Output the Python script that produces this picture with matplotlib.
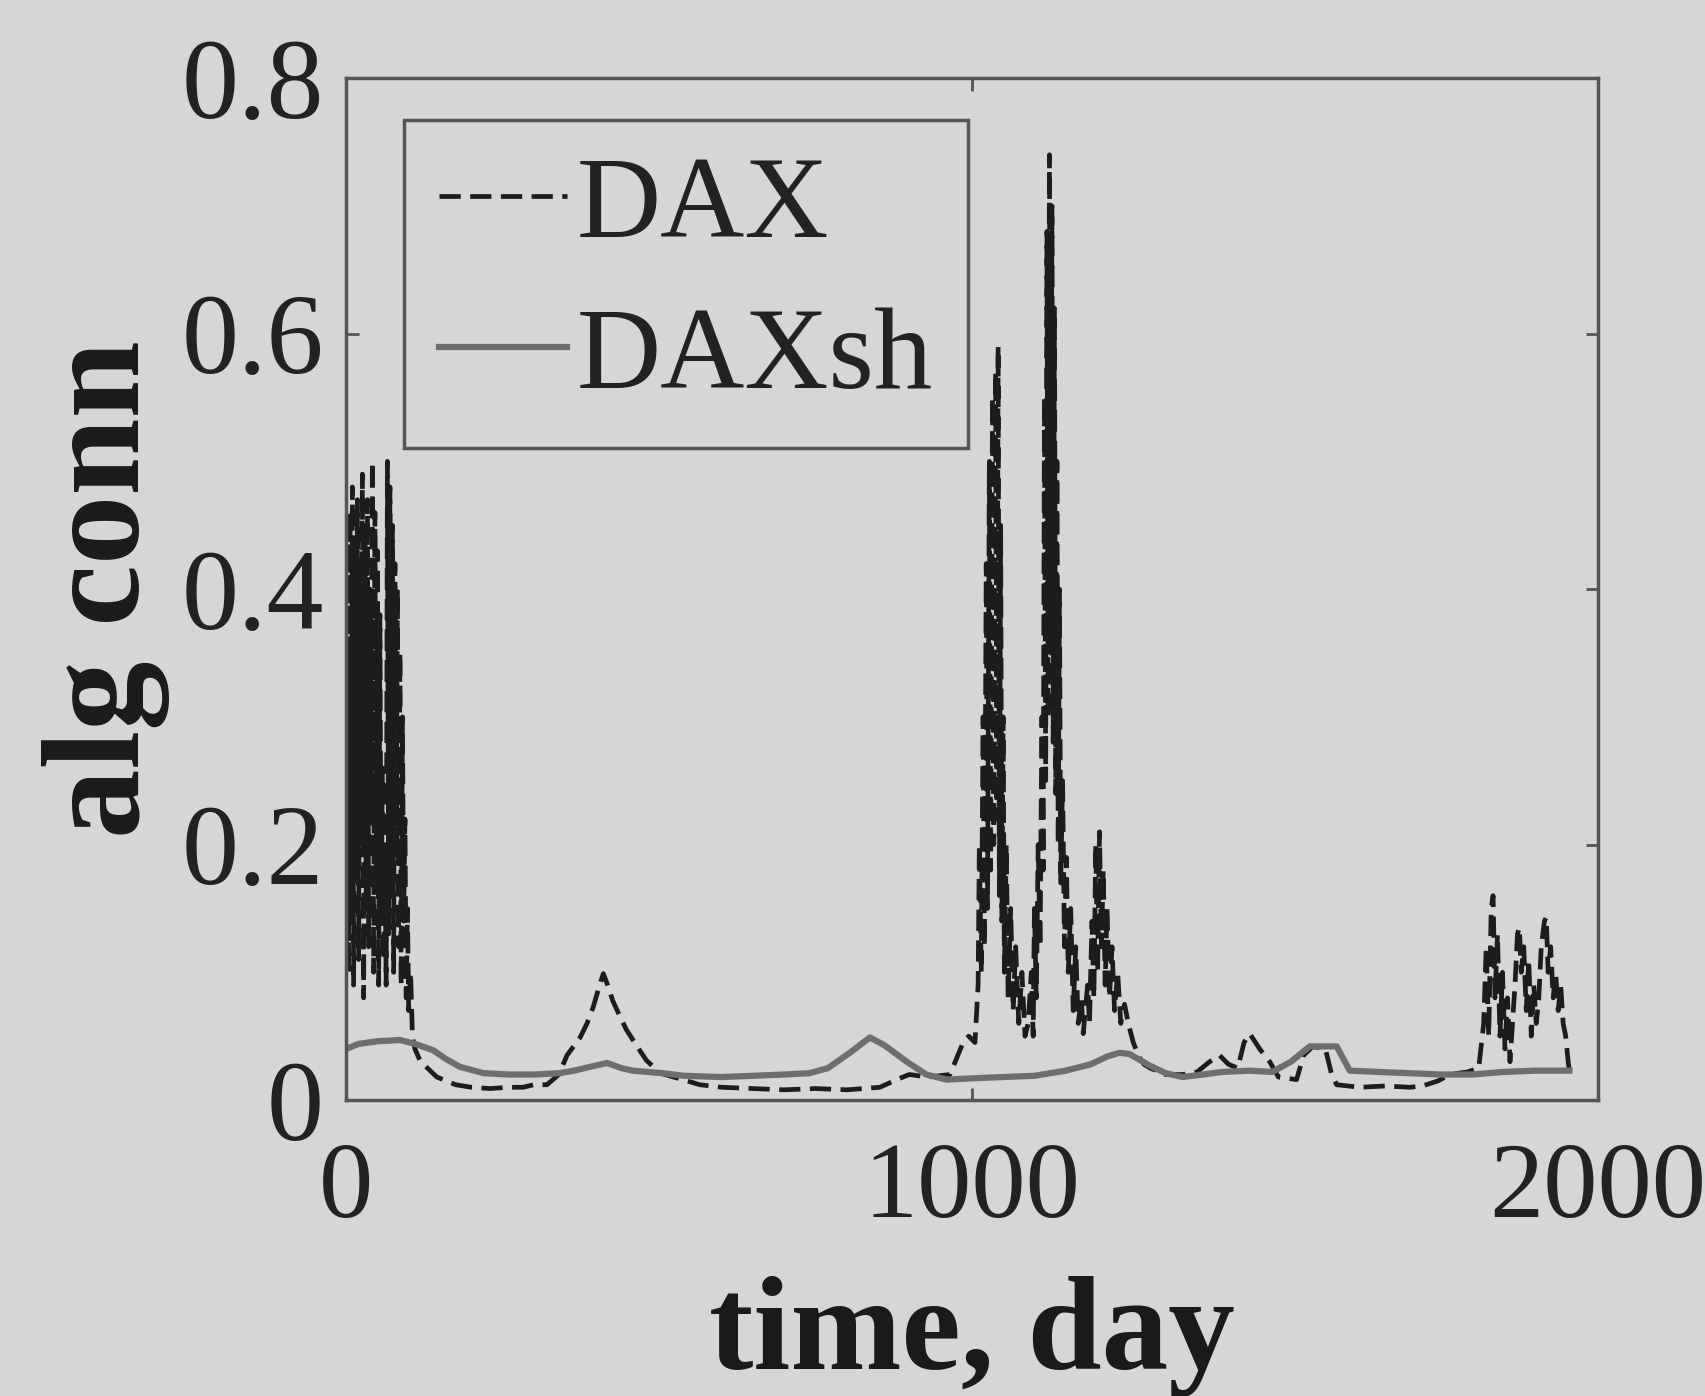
import matplotlib
matplotlib.use('Agg')
import matplotlib.pyplot as plt

# DAX algebraic connectivity
dax_day = [0, 2, 4, 6, 8, 10, 12, 14, 16, 18, 20, 22, 24, 26, 28, 30, 32, 34, 36, 38,
           40, 42, 44, 46, 48, 50, 52, 54, 56, 58, 60, 62, 64, 66, 68, 70, 72, 74, 76, 78,
           80, 82, 84, 86, 88, 90, 92, 94, 96, 98, 100, 103, 106, 110,
           118, 130, 145, 160, 175, 200, 230, 260, 283, 300, 321, 340, 353, 374, 385, 395,
           404, 411, 418, 426, 437, 448, 465, 480, 502, 538, 565, 600, 650, 700, 750, 800,
           853, 880, 900, 930, 965, 986, 995, 1005, 1010,
           1012, 1015, 1018, 1020, 1023, 1025, 1028, 1030, 1033, 1035, 1038, 1040, 1042, 1044,
           1046, 1048, 1050, 1052, 1055, 1058, 1062, 1066, 1070, 1075, 1080, 1085, 1090,
           1095, 1098, 1100, 1103, 1106, 1109, 1112, 1114, 1116, 1118, 1120, 1122, 1124, 1126,
           1128, 1130, 1132, 1134, 1136, 1138, 1140, 1142, 1145, 1148, 1151, 1154, 1158, 1162,
           1166, 1170, 1175, 1178,
           1185, 1188, 1192, 1195, 1198, 1201, 1204, 1207, 1210, 1213, 1216, 1220, 1224, 1228,
           1233, 1238, 1244, 1250, 1258, 1266, 1275, 1285,
           1310, 1337, 1360, 1380, 1396, 1410, 1425, 1435, 1444, 1460, 1476, 1490, 1519, 1530,
           1545, 1565, 1575, 1583, 1620, 1660, 1700, 1720, 1745, 1764, 1792, 1810,
           1818, 1822, 1826, 1830, 1833, 1836, 1840, 1844, 1848, 1852, 1856, 1860, 1864, 1868,
           1872, 1875, 1878, 1882, 1886, 1890, 1894, 1898, 1902, 1906, 1910, 1915, 1918, 1921,
           1925, 1929, 1933, 1937, 1941, 1945, 1949, 1953, 1955]
dax = [0.12, 0.35, 0.10, 0.46, 0.14, 0.48, 0.09, 0.44, 0.18, 0.47, 0.11, 0.42, 0.20, 0.49,
       0.08, 0.45, 0.15, 0.47, 0.12, 0.40, 0.22, 0.50, 0.10, 0.46, 0.17, 0.43, 0.09, 0.38,
       0.14, 0.26, 0.11, 0.20, 0.09, 0.50, 0.13, 0.48, 0.16, 0.45, 0.10, 0.42, 0.19, 0.40,
       0.12, 0.35, 0.09, 0.30, 0.14, 0.22, 0.08, 0.15, 0.07, 0.10, 0.05, 0.04,
       0.031, 0.025, 0.018, 0.015, 0.012, 0.010, 0.009, 0.010, 0.010, 0.012, 0.012, 0.020,
       0.035, 0.049, 0.060, 0.073, 0.088, 0.099, 0.090, 0.078, 0.066, 0.055, 0.042, 0.031,
       0.021, 0.016, 0.012, 0.010, 0.009, 0.008, 0.009, 0.008, 0.010, 0.016, 0.020, 0.018,
       0.020, 0.045, 0.050, 0.045, 0.090,
       0.20, 0.10, 0.30, 0.12, 0.42, 0.15, 0.50, 0.18, 0.55, 0.20, 0.57, 0.22, 0.59, 0.16,
       0.45, 0.14, 0.30, 0.10, 0.20, 0.08, 0.15, 0.07, 0.12, 0.06, 0.10, 0.05, 0.06,
       0.10, 0.05, 0.15, 0.08, 0.20, 0.12, 0.30, 0.18, 0.55, 0.25, 0.68, 0.30, 0.74, 0.35,
       0.70, 0.28, 0.62, 0.24, 0.50, 0.20, 0.40, 0.17, 0.25, 0.12, 0.19, 0.10, 0.15, 0.07,
       0.12, 0.06, 0.08, 0.052,
       0.09, 0.06, 0.14, 0.08, 0.20, 0.10, 0.21, 0.12, 0.18, 0.09, 0.15, 0.08, 0.12, 0.07,
       0.10, 0.06, 0.075, 0.06, 0.045, 0.035, 0.028, 0.025,
       0.020, 0.020, 0.022, 0.030, 0.035, 0.028, 0.025, 0.045, 0.052, 0.040, 0.030, 0.018,
       0.016, 0.035, 0.042, 0.040, 0.020, 0.012, 0.010, 0.011, 0.010, 0.011, 0.015, 0.020,
       0.022, 0.025,
       0.06, 0.12, 0.05, 0.15, 0.16, 0.08, 0.13, 0.05, 0.10, 0.04, 0.08, 0.03, 0.06, 0.09,
       0.13, 0.135, 0.10, 0.12, 0.07, 0.11, 0.05, 0.09, 0.06, 0.08, 0.12, 0.14, 0.143, 0.10,
       0.12, 0.08, 0.10, 0.07, 0.09, 0.06, 0.05, 0.03, 0.023]

# shuffled DAX
daxsh_day = [0, 20, 50, 86, 110, 139, 160, 182, 220, 260, 300, 340, 364, 390, 417, 440,
             458, 506, 540, 600, 650, 700, 740, 770, 805, 837, 860, 896, 927, 960, 1000,
             1050, 1100, 1150, 1190, 1216, 1236, 1252, 1270, 1284, 1310, 1337, 1370, 1400,
             1444, 1480, 1510, 1540, 1583, 1604, 1650, 1700, 1750, 1800, 1850, 1900, 1955]
daxsh = [0.040, 0.044, 0.046, 0.047, 0.044, 0.039, 0.032, 0.026, 0.021, 0.020, 0.020,
         0.021, 0.023, 0.026, 0.029, 0.025, 0.023, 0.021, 0.019, 0.018, 0.019, 0.020,
         0.021, 0.025, 0.037, 0.049, 0.043, 0.030, 0.020, 0.016, 0.017, 0.018, 0.019,
         0.023, 0.028, 0.034, 0.037, 0.036, 0.031, 0.027, 0.021, 0.018, 0.020, 0.022,
         0.023, 0.022, 0.030, 0.042, 0.042, 0.023, 0.022, 0.021, 0.020, 0.020, 0.022,
         0.023, 0.023]

xticks = [0, 1000, 2000]
yticks = [0, 0.2, 0.4, 0.6, 0.8]
ytick_labels = ['0', '0.2', '0.4', '0.6', '0.8']

bg = '#d6d6d4'
plt.rcParams['font.family'] = ['Liberation Serif', 'DejaVu Serif']

fig = plt.figure(figsize=(17.05, 13.96), dpi=100, facecolor=bg)
ax = fig.add_axes([0.203, 0.212, 0.734, 0.732], facecolor=bg)

ax.plot(dax_day, dax, color='#1c1c1c', lw=3.4, linestyle=(0, (4.5, 2.0)), label='DAX')
ax.plot(daxsh_day, daxsh, color='#6e6e6e', lw=4.5, label='DAXsh')

ax.set_xlim(0, 2000)
ax.set_ylim(0, 0.8)
ax.set_xticks(xticks)
ax.set_xticklabels([str(t) for t in xticks])
ax.set_yticks(yticks)
ax.set_yticklabels(ytick_labels)

ax.tick_params(direction='in', length=9, width=2, color='#555555',
               top=True, right=True, labelsize=82, labelcolor='#222222')
ax.tick_params(axis='x', pad=30, labelsize=78)
ax.tick_params(axis='y', pad=16)
for s in ax.spines.values():
    s.set_color('#555555')
    s.set_linewidth(2.5)

ax.set_xlabel('time, day', fontsize=96, fontweight='bold', color='#1a1a1a', labelpad=26)
ax.set_ylabel('alg conn', fontsize=100, fontweight='bold', color='#1a1a1a', labelpad=8)

leg = ax.legend(loc='upper left', bbox_to_anchor=(0.046, 0.959), fontsize=84,
                handlelength=1.1, handletextpad=0.08, labelspacing=0.38,
                borderpad=0.3, borderaxespad=0, fancybox=False, framealpha=1,
                facecolor=bg, edgecolor='#555555')
leg.get_frame().set_linewidth(2.5)
for t in leg.get_texts():
    t.set_color('#222222')

fig.savefig('out.png', dpi=100, facecolor=bg)
